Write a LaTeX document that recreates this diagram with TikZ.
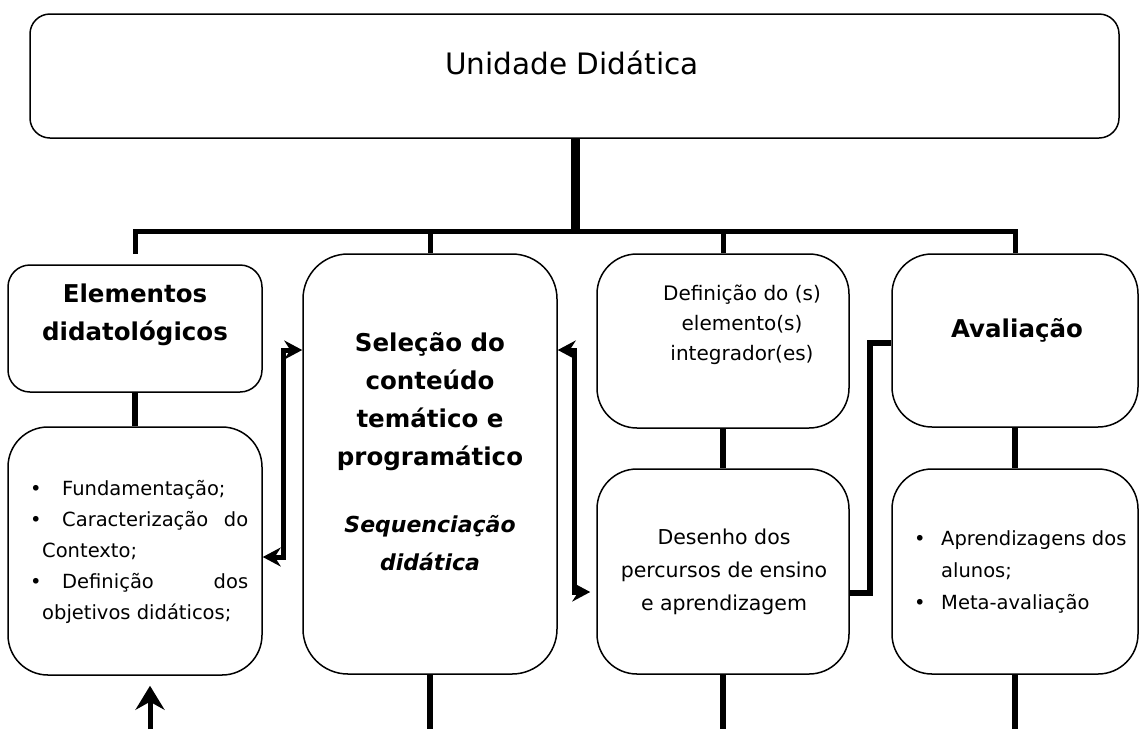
\documentclass[tikz,border=0pt]{standalone}
\usepackage{fontspec}
\setmainfont{DejaVu Sans}
\usetikzlibrary{arrows.meta}
\tikzset{
  x=1pt, y=-1pt,
  box/.style={draw, line width=1.5pt, rounded corners=#1, inner sep=0pt},
  txt/.style={inner sep=0pt, align=center},
  trunkline/.style={line width=9pt},
  barline/.style={line width=5pt},
  linkline/.style={line width=6pt},
  endline/.style={line width=5.5pt},
  arrline/.style={line width=5pt, {Stealth[length=18pt,width=19pt,inset=6pt]}-{Stealth[length=18pt,width=19pt,inset=6pt]}},
  uparr/.style={line width=5pt, -{Stealth[length=24pt,width=29pt,inset=8pt]}},
}
\begin{document}
\begin{tikzpicture}
\useasboundingbox (0,0) rectangle (1140,729);
% boxes
\node[box=20pt, minimum width=1089pt, minimum height=124pt] (top) at (574.5,76) {};
\node[box=22pt, minimum width=254pt, minimum height=127pt] (elem) at (135,328.5) {};
\node[box=40pt, minimum width=254pt, minimum height=248pt] (elemL) at (135,551) {};
\node[box=45pt, minimum width=254pt, minimum height=420pt] (sel) at (430,464) {};
\node[box=40pt, minimum width=252pt, minimum height=174pt] (def) at (723,341) {};
\node[box=40pt, minimum width=252pt, minimum height=205pt] (des) at (723,571.5) {};
\node[box=40pt, minimum width=246pt, minimum height=173pt] (ava) at (1015,340.5) {};
\node[box=40pt, minimum width=246pt, minimum height=205pt] (avaL) at (1015,571.5) {};
% texts
\node[txt, font=\fontsize{29.5}{36}\selectfont] (topT) at (572,63) {Unidade Didática};
\node[txt, font=\fontsize{24.5}{38}\selectfont\bfseries] (elemT) at (135,315) {Elementos\\didatológicos};
\node[txt, anchor=west, align=left, font=\fontsize{19.5}{31}\selectfont] (elemLT) at (30,552)
  {\makebox[32pt][l]{•}Fundamentação;\\
   \makebox[218pt]{\makebox[32pt][l]{•}Caracterização\hfill do}\\
   \hspace*{12pt}Contexto;\\
   \makebox[218pt]{\makebox[32pt][l]{•}Definição\hfill dos}\\
   \hspace*{12pt}objetivos didáticos;};
\node[txt, font=\fontsize{24.5}{38}\selectfont\bfseries] (selT) at (430,402) {Seleção do\\conteúdo\\temático e\\programático};
\node[txt, font=\fontsize{22}{38}\selectfont\bfseries\itshape] (selI) at (430,543) {Sequenciação\\didática};
\node[txt, font=\fontsize{20}{30}\selectfont] (defT) at (742,325) {Definição do (s)\\elemento(s)\\integrador(es)};
\node[txt, font=\fontsize{20.5}{33}\selectfont] (desT) at (724,572) {Desenho dos\\percursos de ensino\\e aprendizagem};
\node[txt, font=\fontsize{24.5}{38}\selectfont\bfseries] (avaT) at (1017,330) {Avaliação};
\node[txt, anchor=west, align=left, font=\fontsize{19.5}{32}\selectfont] (avaLT) at (914,572)
  {\makebox[27pt][l]{•}Aprendizagens dos\\
   \hspace*{27pt}alunos;\\
   \makebox[27pt][l]{•}Meta-avaliação};
% tree connectors
\coordinate (barL) at (135,231);
\coordinate (elemdrop) at (135,254);
\draw[trunkline] (top.south -| 575,0) -- (575,233);
\draw[barline] (elemdrop) -- (elem.north |- barL) -- (ava.north |- barL) -- (ava.north);
\draw[barline] (sel.north |- barL) -- (sel.north);
\draw[barline] (def.north |- barL) -- (def.north);
% box links
\draw[linkline] (elem.south) -- (elemL.north);
\draw[linkline] (def.south) -- (des.north);
\draw[linkline] (ava.south) -- (avaL.north);
\draw[linkline] (des.east |- 0,593) -| (870,343) -- (ava.west |- 0,343);
% double arrows
\draw[arrline] (sel.west |- 0,350) -| (283,557) -- (elemL.east |- 0,557);
\draw[arrline, shorten >=6pt] (sel.east |- 0,350) -| (574,592) -- (des.west |- 0,592);
% up arrow
\coordinate (upstart) at (150,729);
\draw[uparr, shorten >=10pt] (upstart) -- (elemL.south -| upstart);
% bottom lines
\draw[endline] (sel.south) -- (sel.south |- upstart);
\draw[endline] (des.south) -- (des.south |- upstart);
\draw[endline] (avaL.south) -- (avaL.south |- upstart);
\end{tikzpicture}
\end{document}
